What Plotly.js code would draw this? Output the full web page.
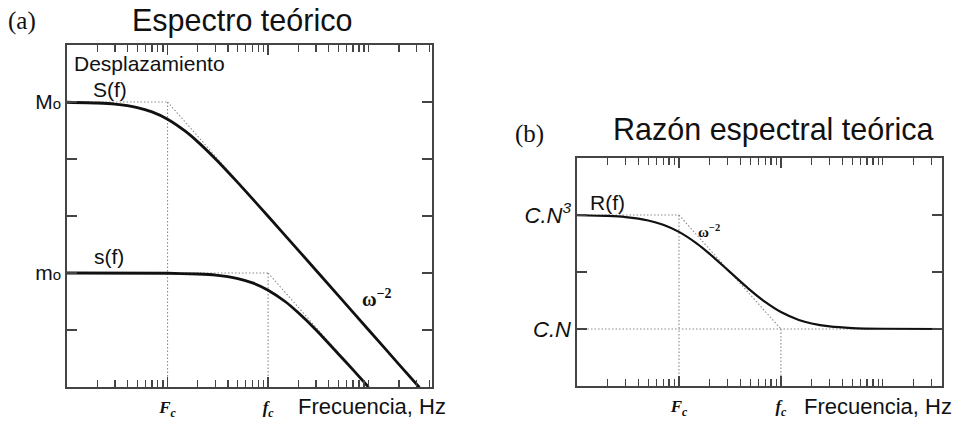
<!DOCTYPE html>
<html>
<head>
<meta charset="utf-8">
<script src="https://cdn.plot.ly/plotly-3.0.1.min.js"></script>
<style>html,body{margin:0;padding:0;background:#fff;}#chart{width:960px;height:421px;}</style>
</head>
<body>
<div id="chart"></div>
<script>
// ---- (a) source spectra: displacement amplitude vs frequency (log-log) ----
const freqS = [0.1, 0.2, 0.3, 0.5, 0.7, 1, 1.5, 2, 3, 5, 7, 10, 20, 50, 100, 200, 320];
const ampS  = [99000, 96000, 91700, 80000, 67100, 50000, 30800, 20000, 10000, 3850, 2000, 990, 250, 40, 10, 2.5, 0.98];
const freqs = [0.1, 1, 2, 3, 5, 7, 10, 15, 20, 30, 50, 70, 100];
const amps  = [100, 99, 96, 92, 80, 67, 50, 31, 20, 10, 3.8, 2, 0.99];

// corner frequencies and plateau levels
const Fc = 1, fc = 10;
const M0 = 1e5, m0 = 1e2;

// ---- (b) spectral ratio ----
const freqR = [0.1, 0.2, 0.3, 0.5, 0.7, 1, 1.5, 2, 3, 5, 7, 10, 15, 20, 30, 50, 100, 400];
const ratioR = [990, 962, 918, 802, 674, 505, 315, 208, 109, 48, 29.8, 19.8, 14.4, 12.5, 11.1, 10.4, 10.1, 10];
const CN3 = 1e3, CN = 1e1;

// ticks: labelled ones on the main tick list, the rest as minor ticks
const labelX = [Fc, fc];
const labelXText = ['<b><i>F<sub>c</sub></i></b>', '<b><i>f<sub>c</sub></i></b>'];
const minorX = [0.2,0.3,0.4,0.5,0.6,0.7,0.8,0.9, 2,3,4,5,6,7,8,9, 20,30,40,50,60,70,80,90, 100, 200,300,400];
const labelYA = [m0, M0];
const labelYAText = ['m<span style="font-size:15px">o</span>', 'M<span style="font-size:15px">o</span>'];
const plainYA = [1e1, 1e3, 1e4];
const labelYB = [CN, CN3];
const labelYBText = ['<i>C.N</i>', '<i>C.N<sup>3</sup></i>'];
const plainYB = [1e2];

const W = 960, H = 421;
const px = x => x / W;
const py = y => 1 - y / H;

const dot = {color: '#8a8a8a', width: 1.1, dash: '1.5px,2px'};
const solidA = {color: '#111', width: 2.8, shape: 'spline', smoothing: 0.6};
const solidB = {color: '#111', width: 2.2, shape: 'spline', smoothing: 0.6};

const traces = [
  // guide lines, panel (a)
  {x: [0.1, Fc], y: [M0, M0], xaxis: 'x', yaxis: 'y', mode: 'lines', line: dot},
  {x: [Fc, Fc], y: [M0, 1], xaxis: 'x', yaxis: 'y', mode: 'lines', line: dot},
  {x: [Fc, 316], y: [M0, 1], xaxis: 'x', yaxis: 'y', mode: 'lines', line: dot},
  {x: [0.1, fc], y: [m0, m0], xaxis: 'x', yaxis: 'y', mode: 'lines', line: dot},
  {x: [fc, fc], y: [m0, 1], xaxis: 'x', yaxis: 'y', mode: 'lines', line: dot},
  {x: [fc, 100], y: [m0, 1], xaxis: 'x', yaxis: 'y', mode: 'lines', line: dot},
  // spectra
  {x: freqS, y: ampS, xaxis: 'x', yaxis: 'y', mode: 'lines', line: solidA},
  {x: freqs, y: amps, xaxis: 'x', yaxis: 'y', mode: 'lines', line: solidA},
  // guide lines, panel (b)
  {x: [0.1, Fc], y: [CN3, CN3], xaxis: 'x2', yaxis: 'y2', mode: 'lines', line: dot},
  {x: [Fc, Fc], y: [CN3, 1], xaxis: 'x2', yaxis: 'y2', mode: 'lines', line: dot},
  {x: [Fc, fc], y: [CN3, CN], xaxis: 'x2', yaxis: 'y2', mode: 'lines', line: dot},
  {x: [fc, fc], y: [CN, 1], xaxis: 'x2', yaxis: 'y2', mode: 'lines', line: dot},
  {x: [0.1, 400], y: [CN, CN], xaxis: 'x2', yaxis: 'y2', mode: 'lines', line: dot},
  // ratio curve
  {x: freqR, y: ratioR, xaxis: 'x2', yaxis: 'y2', mode: 'lines', line: solidB}
];

const axisCommon = {
  type: 'log', showgrid: false, zeroline: false,
  showline: true, linecolor: '#444', linewidth: 1.6, mirror: 'ticks',
  ticks: 'inside', tickcolor: '#444', tickwidth: 1.3, tickmode: 'array'
};
const xCommon = Object.assign({}, axisCommon, {
  tickvals: labelX, ticktext: labelXText, ticklen: 10,
  tickfont: {family: 'Liberation Serif', size: 17, color: '#111'},
  ticklabelstandoff: 4,
  minor: {ticks: 'inside', tickmode: 'array', tickvals: minorX, ticklen: 7, tickcolor: '#444', tickwidth: 1.2, showgrid: false}
});
const yCommon = Object.assign({}, axisCommon, {
  ticklen: 10,
  tickfont: {family: 'Liberation Sans', size: 21, color: '#111'}
});

const ann = (text, x, y, size, opts) => Object.assign({
  text: text, xref: 'paper', yref: 'paper', x: px(x), y: py(y),
  xanchor: 'left', yanchor: 'middle', showarrow: false,
  font: {family: 'Liberation Sans', size: size, color: '#111'}
}, opts || {});
const serif = (size) => ({font: {family: 'Liberation Serif', size: size, color: '#111'}});

const layout = {
  width: W, height: H,
  margin: {l: 0, r: 0, t: 0, b: 0},
  paper_bgcolor: '#fff', plot_bgcolor: '#fff',
  showlegend: false,
  xaxis: Object.assign({}, xCommon, {domain: [px(67), px(432)], range: [-1, 2.63], anchor: 'y'}),
  yaxis: Object.assign({}, yCommon, {domain: [py(387), py(45)], range: [0, 6], anchor: 'x',
    tickvals: labelYA, ticktext: labelYAText,
    minor: {ticks: 'inside', tickmode: 'array', tickvals: plainYA, ticklen: 10, tickcolor: '#444', tickwidth: 1.3, showgrid: false}}),
  xaxis2: Object.assign({}, xCommon, {domain: [px(577), px(942)], range: [-1, 2.58], anchor: 'y2'}),
  yaxis2: Object.assign({}, yCommon, {domain: [py(386), py(158)], range: [0, 4], anchor: 'x2',
    tickvals: labelYB, ticktext: labelYBText, tickfont: {family: 'Liberation Sans', size: 22, color: '#111'},
    minor: {ticks: 'inside', tickmode: 'array', tickvals: plainYB, ticklen: 10, tickcolor: '#444', tickwidth: 1.3, showgrid: false}}),
  annotations: [
    ann('(a)', 6, 21, 25, serif(25)),
    ann('Espectro teórico', 130, 20, 30.5),
    ann('Desplazamiento', 72, 63, 21),
    ann('S(f)', 91, 89, 21),
    ann('s(f)', 92, 256, 21),
    ann('<b>ω<sup>−2</sup></b>', 360, 298, 20, serif(20)),
    ann('Frecuencia, Hz', 296, 406, 22),
    ann('(b)', 513, 134, 25, serif(25)),
    ann('Razón espectral teórica', 611, 130, 30.5),
    ann('R(f)', 588, 202, 21),
    ann('<b>ω<sup>−2</sup></b>', 696, 231, 15, serif(15)),
    ann('Frecuencia, Hz', 802, 406, 22)
  ]
};

Plotly.newPlot('chart', traces, layout, {staticPlot: true, displayModeBar: false});
</script>
</body>
</html>
